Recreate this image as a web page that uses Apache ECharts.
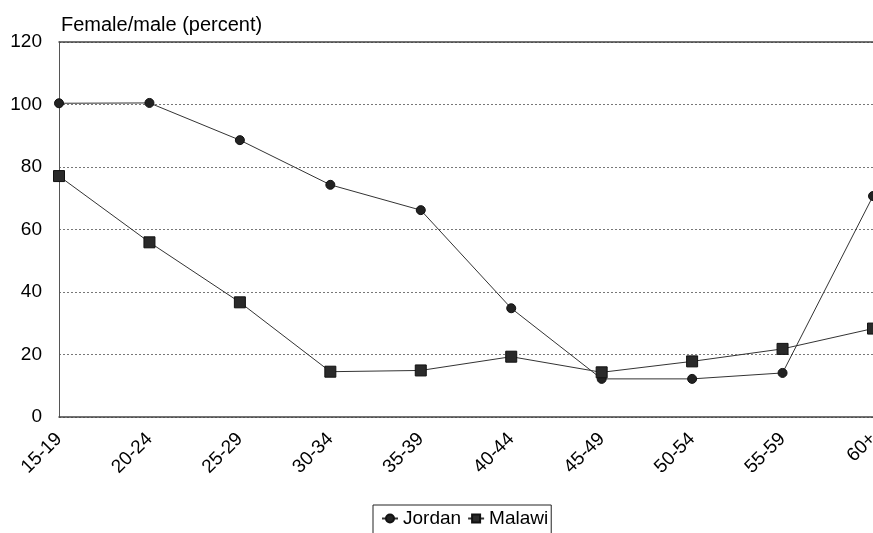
<!DOCTYPE html>
<html>
<head>
<meta charset="utf-8">
<script src="https://cdn.jsdelivr.net/npm/echarts@6/dist/echarts.min.js"></script>
<style>
html,body{margin:0;padding:0;background:#fff;}
#chart{width:873px;height:533px;}
</style>
</head>
<body>
<div id="chart"></div>
<script>
var categories = ['15-19','20-24','25-29','30-34','35-39','40-44','45-49','50-54','55-59','60+'];
var jordan = [100.4, 100.5, 88.6, 74.3, 66.2, 34.8, 12.2, 12.2, 14.1, 70.7];
var malawi = [77.1, 55.9, 36.7, 14.5, 14.9, 19.3, 14.3, 17.8, 21.8, 28.3];
var yTicks = {min: 0, max: 120, interval: 20};
var titleText = 'Female/male (percent)';

var FONT = '"Liberation Sans", Arial, Helvetica, sans-serif';
var chart = echarts.init(document.getElementById('chart'), null, {renderer: 'canvas'});
chart.setOption({
  animation: false,
  backgroundColor: '#fff',
  title: {
    text: titleText, left: 56, top: 10,
    textStyle: {fontFamily: FONT, fontSize: 20, fontWeight: 'normal', color: '#000'}
  },
  legend: {
    left: 373, top: 505,
    padding: [4, 3, 15, 8],
    itemWidth: 16, itemHeight: 10, itemGap: 6,
    borderColor: '#222', borderWidth: 1,
    textStyle: {fontFamily: FONT, fontSize: 19, color: '#000'},
    data: ['Jordan', 'Malawi']
  },
  grid: {left: 59, top: 42, width: 814, height: 375, containLabel: false, outerBoundsMode: 'none'},
  xAxis: [{
    type: 'category', data: categories, boundaryGap: false,
    axisLine: {lineStyle: {color: '#444', width: 1.5}},
    axisTick: {show: false},
    axisLabel: {rotate: 45, margin: 19, interval: 0, fontFamily: FONT, fontSize: 19, color: '#000'},
    splitLine: {show: false}
  }, {
    type: 'category', data: categories, boundaryGap: false, position: 'top',
    axisLine: {lineStyle: {color: '#444', width: 1.5}},
    axisTick: {show: false}, axisLabel: {show: false}, splitLine: {show: false}
  }],
  yAxis: {
    type: 'value', min: yTicks.min, max: yTicks.max, interval: yTicks.interval,
    axisLine: {show: true, lineStyle: {color: '#555', width: 1}},
    axisTick: {show: false},
    axisLabel: {margin: 17, fontFamily: FONT, fontSize: 19, color: '#000'},
    splitLine: {show: true, lineStyle: {color: '#777', type: [2, 2], width: 1}}
  },
  series: [{
    name: 'Jordan', type: 'line', data: jordan,
    symbol: 'circle', symbolSize: 9,
    lineStyle: {color: '#333', width: 1},
    itemStyle: {color: '#222', borderColor: '#111', borderWidth: 1}
  }, {
    name: 'Malawi', type: 'line', data: malawi,
    symbol: 'rect', symbolSize: 11,
    lineStyle: {color: '#333', width: 1},
    itemStyle: {color: '#2a2a2a', borderColor: '#111', borderWidth: 1}
  }]
});
</script>
</body>
</html>
